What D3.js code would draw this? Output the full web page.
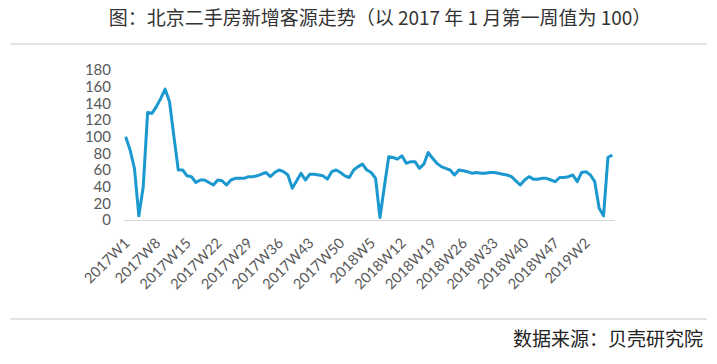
<!DOCTYPE html>
<html lang="zh">
<head>
<meta charset="UTF-8">
<title>北京二手房新增客源走势</title>
<script src="https://d3js.org/d3.v7.min.js"></script>
<style>
  body { margin: 0; background: #fff; }
</style>
</head>
<body>
<div id="chart"></div>
<script>
// weekly index values, 2017W1 = 100
const values = [
  100, 84, 62, 5, 40, 129, 128, 136, 146, 157,
  142, 100, 60, 60, 53, 52, 45, 48, 48, 45,
  42, 48, 47, 42, 48, 50, 50, 50, 52, 52,
  53, 55, 57, 52, 57, 60, 58, 54, 38, 47,
  56, 48, 55, 55, 54, 53, 49, 58, 60, 57,
  53, 51, 60, 64, 67, 60, 57, 50, 3, 40,
  76, 75, 73, 77, 68, 70, 70, 62, 67, 81,
  74, 68, 64, 62, 60, 54, 60, 59, 58, 56,
  57, 56, 56, 57, 57, 56, 55, 54, 52, 47,
  42, 48, 52, 49, 49, 50, 50, 48, 46, 51,
  51, 52, 54, 46, 57, 58, 54, 46, 14, 5,
  75, 78
];
// 2017 and 2018 each have 52 weeks
const years = [2017, 2018, 2019];
const weeks = values.map((v, i) => {
  const y = years[Math.floor(i / 52)];
  return y + "W" + (i % 52 + 1);
});
const yTicks = [0, 20, 40, 60, 80, 100, 120, 140, 160, 180];
const labelStep = 7;

const title = "图：北京二手房新增客源走势（以 2017 年 1 月第一周值为 100）";
const source = "数据来源：贝壳研究院";

const w = 717, h = 364;
const cjk = "'Noto Sans CJK SC', 'Noto Sans', sans-serif";

const svg = d3.select("#chart").append("svg")
  .attr("width", w)
  .attr("height", h);

svg.append("text")
  .attr("x", 380)
  .attr("y", 25)
  .attr("text-anchor", "middle")
  .style("font-family", cjk)
  .style("font-size", "19px")
  .style("fill", "#333")
  .text(title);

// rules above and below the chart
[44, 319].forEach(yy => {
  svg.append("line")
    .attr("x1", 10).attr("x2", 707)
    .attr("y1", yy).attr("y2", yy)
    .style("stroke", "#c8c8c8")
    .attr("stroke-width", 1.2);
});

svg.append("text")
  .attr("x", 703)
  .attr("y", 346)
  .attr("text-anchor", "end")
  .style("font-family", cjk)
  .style("font-size", "19px")
  .style("fill", "#222")
  .text(source);

const xscale = d3.scaleBand()
  .domain(weeks)
  .range([123.5, 614.5])
  .padding(0);
const yscale = d3.scaleLinear()
  .domain([0, 180])
  .range([220, 70]);
const cx = d => xscale(d) + xscale.bandwidth() / 2;

// y axis labels
const Yaxis = d3.axisLeft(yscale).tickValues(yTicks).tickSize(0).tickPadding(0);
const gy = svg.append("g")
  .attr("transform", "translate(111,0)")
  .call(Yaxis);
gy.select(".domain").remove();
gy.selectAll("text")
  .style("font-family", "Lato, sans-serif")
  .style("font-size", "15px")
  .style("fill", "#595959");

// x axis
const Xaxis = d3.axisBottom(xscale)
  .tickValues(weeks.filter((d, i) => i % labelStep === 0))
  .tickSize(0)
  .tickPadding(0);
const gx = svg.append("g")
  .attr("transform", "translate(0,220)")
  .call(Xaxis);
gx.select(".domain")
  .style("stroke", "#d9d9d9")
  .attr("stroke-width", 1.2);
gx.selectAll("text")
  .attr("text-anchor", "end")
  .attr("dy", "0")
  .attr("y", 0)
  .attr("transform", "translate(5,24) rotate(-45)")
  .style("font-family", "Lato, sans-serif")
  .style("font-size", "14.5px")
  .style("fill", "#595959");

const line = d3.line()
  .x((d, i) => cx(weeks[i]))
  .y(d => yscale(d));

svg.append("path")
  .datum(values)
  .attr("d", line)
  .style("fill", "none")
  .style("stroke", "#1b98cf")
  .attr("stroke-width", 3)
  .attr("stroke-linejoin", "round");
</script>
</body>
</html>
